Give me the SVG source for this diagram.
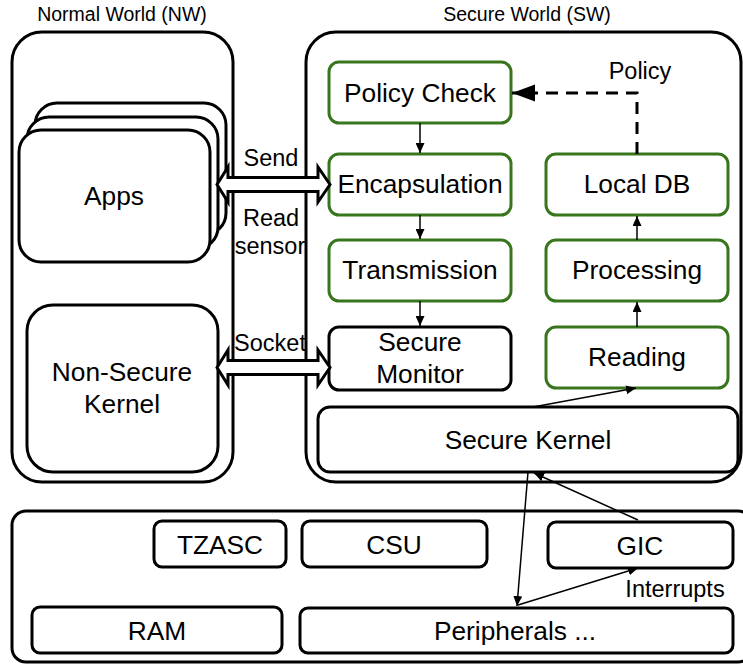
<svg xmlns="http://www.w3.org/2000/svg" width="743" height="665" viewBox="0 0 743 665">
  <style>
    text { font-family: "Liberation Sans", Arial, sans-serif; fill: #000; text-anchor: middle; }
    .title { font-size: 19.5px; }
    .label { font-size: 23.5px; }
    .node { font-size: 26.3px; }
    .frame { fill: #fff; stroke: #000; stroke-width: 3; }
    .box { fill: #fff; stroke: #000; stroke-width: 3; }
    .green { fill: #fff; stroke: #38761d; stroke-width: 3; }
    .thin { fill: none; stroke: #000; stroke-width: 1.5; marker-end: url(#tip); }
    .block { fill: #fff; stroke: #000; stroke-width: 3; stroke-linejoin: miter; }
    .dash { fill: none; stroke: #000; stroke-width: 3; stroke-dasharray: 12 8; marker-end: url(#bigtip); }
  </style>
  <defs>
    <marker id="tip" markerUnits="userSpaceOnUse" markerWidth="11" markerHeight="9" refX="10" refY="4.5" orient="auto">
      <path d="M0,0 L10,4.5 L0,9 Z" fill="#000"/>
    </marker>
    <marker id="bigtip" markerUnits="userSpaceOnUse" markerWidth="24" markerHeight="18" refX="23" refY="8.5" orient="auto">
      <path d="M0,0 L23,8.5 L0,17 Z" fill="#000"/>
    </marker>
  </defs>

  <rect width="743" height="665" fill="#fff"/>

  <!-- world titles -->
  <text class="title" x="122" y="21">Normal World (NW)</text>
  <text class="title" x="527" y="21">Secure World (SW)</text>

  <!-- outer frames -->
  <g id="normal-world">
    <rect class="frame" x="12" y="32" width="221" height="450" rx="30"/>
  </g>
  <g id="secure-world">
    <rect class="frame" x="306" y="32" width="435" height="450" rx="30"/>
  </g>
  <g id="hardware">
    <rect class="frame" x="12" y="511" width="740" height="151" rx="14"/>
  </g>

  <!-- normal world nodes -->
  <g id="apps">
    <rect class="box" x="35" y="103" width="191" height="132" rx="22"/>
    <rect class="box" x="27" y="117" width="191" height="132" rx="22"/>
    <rect class="box" x="19" y="130" width="191" height="132" rx="22"/>
    <text class="node" x="114" y="205">Apps</text>
  </g>
  <g id="non-secure-kernel">
    <rect class="box" x="27" y="305" width="191" height="167" rx="26"/>
    <text class="node" x="122" y="381">Non-Secure</text>
    <text class="node" x="122" y="413">Kernel</text>
  </g>

  <!-- secure world nodes -->
  <g id="policy-check">
    <rect class="green" x="329" y="62" width="182" height="61" rx="10"/>
    <text class="node" x="420" y="102">Policy Check</text>
  </g>
  <g id="encapsulation">
    <rect class="green" x="329" y="154" width="182" height="61" rx="10"/>
    <text class="node" x="420" y="193">Encapsulation</text>
  </g>
  <g id="transmission">
    <rect class="green" x="329" y="240" width="182" height="61" rx="10"/>
    <text class="node" x="420" y="279">Transmission</text>
  </g>
  <g id="secure-monitor">
    <rect class="box" x="329" y="327" width="182" height="63" rx="10"/>
    <text class="node" x="420" y="351">Secure</text>
    <text class="node" x="420" y="383">Monitor</text>
  </g>
  <g id="local-db">
    <rect class="green" x="546" y="154" width="182" height="61" rx="10"/>
    <text class="node" x="637" y="193">Local DB</text>
  </g>
  <g id="processing">
    <rect class="green" x="546" y="240" width="182" height="61" rx="10"/>
    <text class="node" x="637" y="279">Processing</text>
  </g>
  <g id="reading">
    <rect class="green" x="546" y="327" width="182" height="61" rx="10"/>
    <text class="node" x="637" y="366">Reading</text>
  </g>
  <g id="secure-kernel">
    <rect class="box" x="318" y="407" width="420" height="65" rx="12"/>
    <text class="node" x="528" y="449">Secure Kernel</text>
  </g>

  <!-- hardware nodes -->
  <g id="tzasc">
    <rect class="box" x="154" y="521" width="132" height="46" rx="8"/>
    <text class="node" x="220" y="554">TZASC</text>
  </g>
  <g id="csu">
    <rect class="box" x="302" y="521" width="185" height="46" rx="8"/>
    <text class="node" x="394" y="554">CSU</text>
  </g>
  <g id="gic">
    <rect class="box" x="548" y="522" width="185" height="46" rx="8"/>
    <text class="node" x="640" y="555">GIC</text>
  </g>
  <g id="ram">
    <rect class="box" x="32" y="607" width="250" height="46" rx="8"/>
    <text class="node" x="157" y="640">RAM</text>
  </g>
  <g id="peripherals">
    <rect class="box" x="300" y="608" width="433" height="45" rx="8"/>
    <text class="node" x="515" y="640">Peripherals ...</text>
  </g>

  <!-- connectors -->
  <g id="connectors">
    <line class="thin" x1="420" y1="123" x2="420" y2="153"/>
    <line class="thin" x1="420" y1="215" x2="420" y2="239"/>
    <line class="thin" x1="420" y1="301" x2="420" y2="326"/>
    <line class="thin" x1="637" y1="327" x2="637" y2="302"/>
    <line class="thin" x1="637" y1="240" x2="637" y2="216"/>
    <line class="thin" x1="533" y1="407" x2="636" y2="388"/>
    <line class="thin" x1="528" y1="472" x2="517" y2="606"/>
    <line class="thin" x1="638" y1="520" x2="534" y2="473"/>
    <line class="thin" x1="518" y1="605" x2="638" y2="568"/>
    <path class="dash" d="M637,154 L637,93 L512,93"/>

    <!-- world crossing double arrows -->
    <polygon class="block" points="217,184.5 228,167 228,177.5 318,177.5 318,167 330,184.5 318,202 318,191.5 228,191.5 228,202"/>
    <polygon class="block" points="217,367.5 228,350 228,360.5 318,360.5 318,350 330,367.5 318,385 318,374.5 228,374.5 228,385"/>

    <text class="label" x="271" y="166">Send</text>
    <text class="label" x="271" y="226">Read</text>
    <text class="label" x="270" y="254">sensor</text>
    <text class="label" x="270" y="351">Socket</text>
    <text class="label" x="640" y="79">Policy</text>
    <text class="label" x="675" y="597">Interrupts</text>
  </g>
</svg>
